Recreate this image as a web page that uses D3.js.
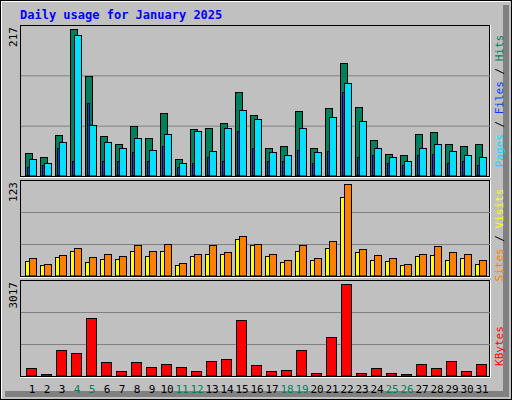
<!DOCTYPE html>
<html><head><meta charset="utf-8">
<script src="https://cdn.jsdelivr.net/npm/d3@7"></script>
<style>body{margin:0;background:#fff}text{font-family:"DejaVu Sans Mono",monospace}</style>
</head><body><div id="chart"></div>
<script>
// data
const days = d3.range(1, 32);
const weekend = [4, 5, 11, 12, 18, 19, 25, 26];
const hits = [34,27,60,217,148,59,47,74,55,93,24,69,71,78,123,90,40,43,96,41,100,167,102,53,32,31,62,65,47,44,47];
const files = [25,18,50,208,75,49,41,56,38,62,18,66,37,71,97,84,35,31,71,35,86,137,81,40,27,21,41,47,37,31,27];
const pages = [13,15,40,22,108,21,22,35,22,44,13,19,28,21,66,40,21,21,38,18,37,124,28,31,18,15,30,32,18,22,16];
const visits = [23,16,27,37,25,29,26,41,33,42,17,29,41,31,53,42,29,21,41,23,46,123,35,27,23,15,29,39,31,29,21];
const sites = [19,14,25,33,18,22,22,33,26,33,14,26,29,29,49,41,26,18,33,21,37,105,31,21,19,14,26,27,21,23,16];
const kbytes = [252,55,845,746,1898,450,154,450,285,384,285,154,483,549,1832,351,154,187,845,88,1273,3017,88,252,88,55,384,252,483,154,384];

const W = 512, H = 400;
const svg = d3.select("#chart").append("svg").attr("width", W).attr("height", H);

// outer frame
svg.append("rect").attr("width", W).attr("height", H).attr("fill", "#c0c0c0");
svg.append("path").attr("d", "M506,5V394H5").attr("stroke", "#808080").attr("stroke-width", 6).attr("fill", "none");
svg.append("path").attr("d", "M1,398V1H510").attr("stroke", "#fff").attr("stroke-width", 2).attr("fill", "none");
svg.append("rect").attr("x", 0.5).attr("y", 0.5).attr("width", W - 1).attr("height", H - 1).attr("fill", "none").attr("stroke", "#000");

svg.append("text").attr("x", 20).attr("y", 19).attr("fill", "#0000ff")
    .style("font-size", "12px").style("font-weight", "bold").text("Daily usage for January 2025");

const x = d3.scaleBand().domain(days).range([21, 486]);

function panel(top, bottom, max, label, parts) {
    svg.append("rect").attr("x", 20.5).attr("y", top + 0.5).attr("width", 469).attr("height", bottom - top)
        .attr("fill", "#c0c0c0").attr("stroke", "#000");
    svg.append("path").attr("d", `M20,${bottom + 1.5}H490.5V${top}`).attr("stroke", "#fff").attr("fill", "none");
    const h = bottom - top;
    [1, 2].forEach(k => svg.append("line").attr("x1", 21).attr("x2", 490)
        .attr("y1", top + k * h / 3 + 0.5).attr("y2", top + k * h / 3 + 0.5).attr("stroke", "#808080"));
    const y = d3.scaleLinear().domain([0, max]).range([bottom - 0.5, top + 4]);
    svg.append("text").attr("transform", `translate(17,${top + 2}) rotate(-90)`).attr("text-anchor", "end")
        .style("font-size", "11px").text(label);
    return y;
}

function bars(y, data, color, dx, w) {
    svg.append("g").selectAll("rect").data(data).join("rect")
        .attr("x", (d, i) => x(days[i]) + dx + 0.5)
        .attr("y", d => Math.round(y(d)) + 0.5)
        .attr("width", w)
        .attr("height", d => Math.max(0, y(0) - Math.round(y(d))))
        .attr("fill", color).attr("stroke", "#000");
}

function sideLabel(yc, items) {
    const t = svg.append("text").attr("transform", `translate(503,${yc}) rotate(-90)`)
        .attr("text-anchor", "middle").style("font-size", "11px");
    items.forEach(([s, c]) => t.append("tspan").attr("fill", c).text(s));
}

// top panel
const y1 = panel(25, 176, 217, "217");
bars(y1, hits, "#00805c", 4, 7);
bars(y1, files, "#00e0ff", 8, 7);
bars(y1, pages, "#0040ff", 6, 2);
sideLabel(101, [["Pages", "#00e0ff"], [" / ", "#000"], ["Files", "#0040ff"], [" / ", "#000"], ["Hits", "#00805c"]]);

// middle panel
const y2 = panel(180, 276, 123, "123");
bars(y2, sites, "#ffff00", 4, 4);
bars(y2, visits, "#ff8000", 8, 7);
sideLabel(235, [["Sites", "#ff8000"], [" / ", "#000"], ["Visits", "#ffff00"]]);

// bottom panel
const y3 = panel(280, 376, 3017, "3017");
bars(y3, kbytes, "#ff0000", 5, 10);
sideLabel(346, [["KBytes", "#ff0000"]]);

// day labels
svg.append("g").selectAll("text").data(days).join("text")
    .attr("x", d => x(d) + 11).attr("y", 393).attr("text-anchor", "middle")
    .style("font-size", "11px")
    .attr("fill", d => weekend.includes(d) ? "#00805c" : "#000")
    .text(d => d);
</script></body></html>
